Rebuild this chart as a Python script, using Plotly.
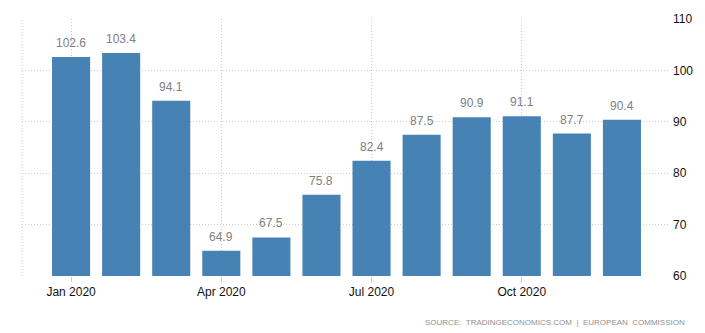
import plotly.graph_objects as go

months = ["Jan", "Feb", "Mar", "Apr", "May", "Jun", "Jul", "Aug", "Sep", "Oct", "Nov", "Dec"]
values = [102.6, 103.4, 94.1, 64.9, 67.5, 75.8, 82.4, 87.5, 90.9, 91.1, 87.7, 90.4]
tick_positions = [0, 3, 6, 9]
tick_labels = ["Jan 2020", "Apr 2020", "Jul 2020", "Oct 2020"]
y_ticks = [60, 70, 80, 90, 100, 110]
source_text = "SOURCE:  TRADINGECONOMICS.COM  |  EUROPEAN  COMMISSION"

x = list(range(len(months)))

fig = go.Figure()
fig.add_trace(go.Bar(
    x=x, y=values, base=0, marker=dict(color="#4682B4", line=dict(width=0)),
    width=0.76, hoverinfo="skip",
))

for xi, v in zip(x, values):
    fig.add_annotation(x=xi, y=v, text=f"{v:.1f}", showarrow=False,
                       yanchor="bottom", yshift=5,
                       font=dict(family="Liberation Sans, Arial", size=12, color="#808080"))

fig.add_annotation(xref="paper", yref="paper", x=1.029, y=-0.155, xanchor="right", yanchor="top",
                   text=source_text, showarrow=False,
                   font=dict(family="Liberation Sans, Arial", size=8, color="#909090"))

grid = "#cccccc"
fig.update_layout(
    width=705, height=333,
    margin=dict(l=22, r=37, t=12, b=57),
    plot_bgcolor="white", paper_bgcolor="white",
    showlegend=False,
    font=dict(family="Liberation Sans, Arial", size=12, color="#111111"),
    xaxis=dict(range=[-0.98, 11.92], tickvals=tick_positions, ticktext=tick_labels,
               showgrid=True, gridcolor=grid, griddash="1px,2px", gridwidth=1,
               zeroline=False, showline=False, ticks="outside", ticklen=5,
               tickcolor=grid, fixedrange=True),
    yaxis=dict(range=[60, 110], side="right", tickvals=y_ticks,
               showgrid=True, gridcolor=grid, griddash="1px,2px", gridwidth=1,
               zeroline=False, showline=False, ticks="", ticklabelstandoff=4, fixedrange=True),
    bargap=0.24,
)
fig.add_shape(type="line", xref="paper", yref="paper", x0=0, x1=0, y0=0, y1=1,
              line=dict(color=grid, width=1, dash="1px,2px"), layer="below")

fig.write_html("out.html")
